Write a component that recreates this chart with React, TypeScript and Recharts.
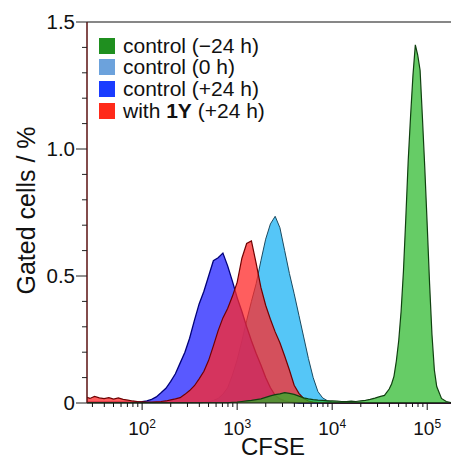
import React from 'react';
import { AreaChart, Area, XAxis, YAxis, Legend, ReferenceLine, Label } from 'recharts';

// CFSE channel (log scale)
const cfse = [
  26.3, 28.2, 31.6, 35.5, 39.8, 44.7, 50.1, 56.2, 63.1, 70.8, 79.4, 89.1,
  100, 112, 126, 141, 158, 178, 200, 224, 251, 282, 316, 355, 398, 447, 501, 562, 631, 708, 794, 891,
  1000, 1122, 1259, 1413, 1585, 1778, 1995, 2239, 2512, 2818, 3162, 3548, 3981, 4467, 5012, 5623, 6310, 7079, 7943, 8913,
  10000, 11220, 12590, 14130, 15850, 17780, 19950, 22390, 25120, 28180, 31620, 35480, 39810,
  42170, 44670, 47320, 50120, 53090, 56230, 59570, 63100, 66830, 70790, 74990, 79430, 84140, 89130, 94410,
  100000, 105900, 112200, 118900, 125900, 141300, 158500, 177800, 199500, 216000,
];

// gated cells / %
const ctrlMinus24 = [
  0.001, 0.001, 0.001, 0.001, 0.001, 0.001, 0.001, 0.001, 0.001, 0.001, 0.001, 0.001,
  0.001, 0.001, 0.001, 0.001, 0.001, 0.001, 0.001, 0.001, 0.001, 0.001, 0.001, 0.001, 0.001, 0.001, 0.001, 0.001, 0.001, 0.001, 0.001, 0.003,
  0.004, 0.006, 0.008, 0.01, 0.013, 0.016, 0.022, 0.028, 0.033, 0.036, 0.041, 0.038, 0.034, 0.027, 0.02, 0.016, 0.013, 0.011, 0.01, 0.008,
  0.008, 0.007, 0.006, 0.006, 0.007, 0.006, 0.008, 0.01, 0.014, 0.019, 0.025, 0.03, 0.055,
  0.075, 0.105, 0.165, 0.245, 0.36, 0.52, 0.73, 0.955, 1.13, 1.29, 1.41, 1.37, 1.31, 1.12, 0.92,
  0.7, 0.47, 0.27, 0.13, 0.065, 0.018, 0.006, 0.002, 0.001, 0,
];

const ctrl0 = [
  0.001, 0.001, 0.001, 0.001, 0.001, 0.001, 0.001, 0.001, 0.001, 0.001, 0.001, 0.001,
  0.001, 0.001, 0.001, 0.001, 0.001, 0.001, 0.001, 0.001, 0.001, 0.001, 0.001, 0.001, 0.001, 0.002, 0.004, 0.01, 0.018, 0.035, 0.06, 0.11,
  0.17, 0.245, 0.325, 0.4, 0.47, 0.56, 0.645, 0.705, 0.735, 0.69, 0.6, 0.51, 0.43, 0.345, 0.26, 0.175, 0.1, 0.045, 0.02, 0.009,
  0.004, 0.002, 0.001, 0.001, 0.001, 0.001, 0.001, 0.001, 0.001, 0.001, 0.001, 0.001, 0.001,
  0.001, 0.001, 0.001, 0.001, 0.001, 0.001, 0.001, 0.001, 0.001, 0.001, 0.001, 0.001, 0.001, 0.001, 0.001,
  0.001, 0, 0, 0, 0, 0, 0, 0, 0, 0,
];

const ctrlPlus24 = [
  0.003, 0.003, 0.003, 0.003, 0.003, 0.003, 0.003, 0.003, 0.003, 0.003, 0.003, 0.004,
  0.005, 0.008, 0.014, 0.024, 0.04, 0.058, 0.085, 0.115, 0.157, 0.2, 0.255, 0.325, 0.39, 0.44, 0.5, 0.56, 0.572, 0.59, 0.54, 0.48,
  0.415, 0.36, 0.3, 0.245, 0.195, 0.15, 0.1, 0.06, 0.03, 0.016, 0.008, 0.004, 0.002, 0, 0, 0, 0, 0, 0, 0,
  0, 0, 0, 0, 0, 0, 0, 0, 0, 0, 0, 0, 0,
  0, 0, 0, 0, 0, 0, 0, 0, 0, 0, 0, 0, 0, 0, 0,
  0, 0, 0, 0, 0, 0, 0, 0, 0, 0,
];

const with1Y = [
  0.022, 0.018, 0.026, 0.02, 0.017, 0.021, 0.015, 0.02, 0.014, 0.011, 0.008, 0.006,
  0.005, 0.004, 0.004, 0.005, 0.006, 0.008, 0.012, 0.016, 0.021, 0.034, 0.049, 0.068, 0.095, 0.125, 0.168, 0.225, 0.285, 0.335, 0.372, 0.42,
  0.475, 0.57, 0.628, 0.638, 0.55, 0.455, 0.385, 0.33, 0.28, 0.237, 0.185, 0.13, 0.07, 0.038, 0.018, 0.008, 0.004, 0.002, 0.001, 0,
  0, 0, 0, 0, 0, 0, 0, 0, 0, 0, 0, 0, 0,
  0, 0, 0, 0, 0, 0, 0, 0, 0, 0, 0, 0, 0, 0, 0,
  0, 0, 0, 0, 0, 0, 0, 0, 0, 0,
];

const seriesNames = ['control (−24 h)', 'control (0 h)', 'control (+24 h)', 'with 1Y (+24 h)'];
const legendColors = ['#1f8f1f', '#6ca2dc', '#1a3cff', '#ff2a1a'];

const xTicks = [
  30, 40, 50, 60, 70, 80, 90,
  100, 200, 300, 400, 500, 600, 700, 800, 900,
  1000, 2000, 3000, 4000, 5000, 6000, 7000, 8000, 9000,
  10000, 20000, 30000, 40000, 50000, 60000, 70000, 80000, 90000,
  100000, 200000,
];
const yTicks = [0, 0.1, 0.2, 0.3, 0.4, 0.5, 0.6, 0.7, 0.8, 0.9, 1.0, 1.1, 1.2, 1.3, 1.4, 1.5];

const data = cfse.map((x, i) => ({
  x,
  g: ctrlMinus24[i],
  lb: ctrl0[i],
  b: ctrlPlus24[i],
  r: with1Y[i],
}));

const font = '"Liberation Sans", Arial, Helvetica, sans-serif';

const XTick = (props: any) => {
  const { x, y, payload } = props;
  const lg = Math.log10(payload.value);
  const p = Math.round(lg);
  const major = Math.abs(lg - p) < 1e-6;
  return (
    <g>
      <line x1={x} x2={x} y1={y} y2={y + (major ? 7 : 4)} stroke="#111" strokeWidth={1} />
      {major && (
        <text x={x} y={y + 32} textAnchor="middle" fontSize={19} fontFamily={font} fill="#111">
          10<tspan dy={-7} fontSize={12}>{p}</tspan>
        </text>
      )}
    </g>
  );
};

const YTick = (props: any) => {
  const { x, y, payload } = props;
  const v = payload.value;
  const major = Math.abs(v * 2 - Math.round(v * 2)) < 1e-6;
  return (
    <g>
      <line x1={x - (major ? 11 : 5)} x2={x} y1={y} y2={y} stroke="#222" strokeWidth={1} />
      {major && (
        <text x={x - 12} y={y + 7} textAnchor="end" fontSize={20.5} fontFamily={font} fill="#111">
          {v === 0 ? '0' : v.toFixed(1)}
        </text>
      )}
    </g>
  );
};

const renderName = (name: string) => {
  if (!name.includes('1Y')) return name;
  const [a, b] = name.split('1Y');
  return (
    <>
      {a}
      <b>1Y</b>
      {b}
    </>
  );
};

const renderLegend = () => (
  <div style={{ fontFamily: font, fontSize: 21, color: '#111' }}>
    {seriesNames.map((name, i) => (
      <div key={name} style={{ display: 'flex', alignItems: 'center', height: 21.6, whiteSpace: 'nowrap' }}>
        <span style={{ display: 'inline-block', width: 16, height: 16, background: legendColors[i], marginRight: 8 }} />
        <span>{renderName(name)}</span>
      </div>
    ))}
  </div>
);

export default function App() {
  return (
    <div style={{ width: 451, height: 453, fontFamily: font }}>
      <AreaChart width={451} height={453} data={data} margin={{ top: 14, right: 0, bottom: 0, left: 0 }}>
        <XAxis
          dataKey="x"
          type="number"
          scale="log"
          domain={[26.3, 216000]}
          allowDataOverflow
          ticks={xTicks}
          interval={0}
          tick={<XTick />}
          tickLine={false}
          tickSize={0}
          tickMargin={0}
          height={58}
          axisLine={{ stroke: '#111', strokeWidth: 1.2 }}
        >
          <Label
            content={({ viewBox }: any) => (
              <text x={viewBox.x + viewBox.width / 2} y={viewBox.y + 52} textAnchor="middle" fontSize={24} fontFamily={font} fill="#111">
                CFSE
              </text>
            )}
          />
        </XAxis>
        <YAxis
          type="number"
          domain={[0, 1.5]}
          ticks={yTicks}
          interval={0}
          tick={<YTick />}
          tickLine={false}
          tickSize={0}
          tickMargin={0}
          width={79}
          axisLine={{ stroke: '#5a1010', strokeWidth: 1.5 }}
        >
          <Label
            content={({ viewBox }: any) => {
              const cy = viewBox.y + viewBox.height / 2 - 2;
              return (
                <text x={27} y={cy} transform={`rotate(-90 27 ${cy})`} textAnchor="middle" fontSize={25} fontFamily={font} fill="#111">
                  Gated cells / %
                </text>
              );
            }}
          />
        </YAxis>
        <ReferenceLine y={1.5} stroke="#111" strokeWidth={1.2} />
        <Area type="linear" dataKey="lb" name={seriesNames[1]} stroke="#1b4a60" strokeWidth={1} fill="#55c6f7" fillOpacity={1} dot={false} activeDot={false} isAnimationActive={false} />
        <Area type="linear" dataKey="b" name={seriesNames[2]} stroke="#00007a" strokeWidth={1.3} fill="#3c3cff" fillOpacity={0.85} dot={false} activeDot={false} isAnimationActive={false} />
        <Area type="linear" dataKey="r" name={seriesNames[3]} stroke="#700000" strokeWidth={1.2} fill="#ff2828" fillOpacity={0.75} dot={false} activeDot={false} isAnimationActive={false} />
        <Area type="linear" dataKey="g" name={seriesNames[0]} stroke="#104010" strokeWidth={1.2} fill="#25b625" fillOpacity={0.7} dot={false} activeDot={false} isAnimationActive={false} />
        <Legend
          layout="vertical"
          align="center"
          verticalAlign="middle"
          content={renderLegend}
          wrapperStyle={{ position: 'absolute', left: 91, top: 27, width: 'auto', height: 'auto' }}
        />
      </AreaChart>
    </div>
  );
}
